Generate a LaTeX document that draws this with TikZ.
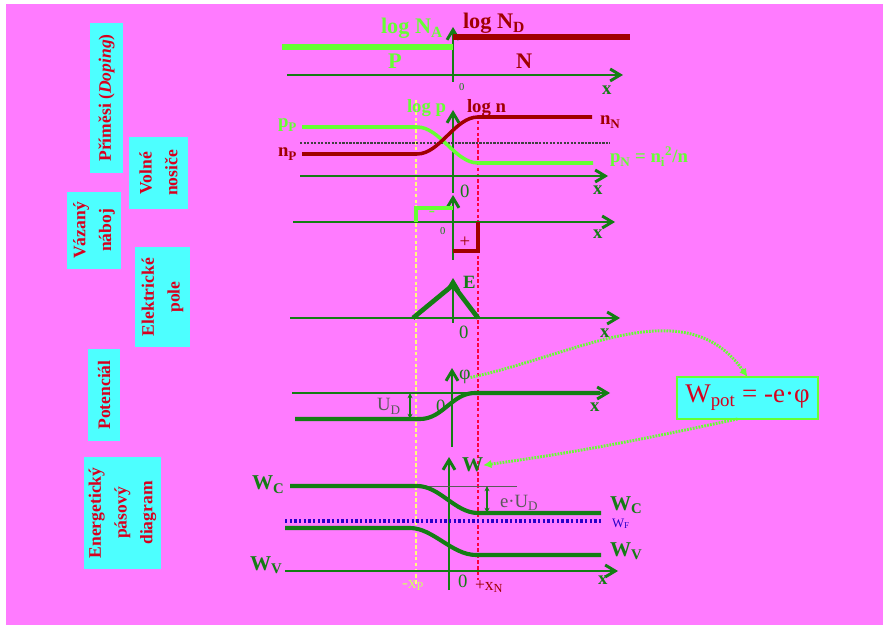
\documentclass[tikz,border=0pt]{standalone}
\usepackage{fontspec}
\setmainfont{Liberation Serif}
\usepackage{tikz}
\usetikzlibrary{arrows.meta,positioning}

\definecolor{bgpink}{RGB}{255,123,255}
\definecolor{boxcyan}{RGB}{77,255,255}
\definecolor{labred}{RGB}{215,0,30}
\definecolor{axisgreen}{RGB}{20,125,20}
\definecolor{pgreen}{RGB}{102,255,51}
\definecolor{ndred}{RGB}{160,0,0}
\definecolor{edgeyellow}{RGB}{255,255,120}
\definecolor{edgered}{RGB}{255,0,60}
\definecolor{fermiblue}{RGB}{40,0,200}
\definecolor{udgray}{RGB}{90,90,90}

\begin{document}
\begin{tikzpicture}[%
    x=0.03cm, y=-0.03cm,
    every node/.style={inner sep=0pt, outer sep=0pt},
    label box/.style={fill=boxcyan, text=labred, rotate=90, align=center,
        font=\bfseries\fontsize{15}{22}\selectfont},
    xaxis/.style={draw=axisgreen, line width=2.5pt,
        -{Straight Barb[length=3mm,width=3.6mm]}},
    big/.style={font=\bfseries\fontsize{18}{18}\selectfont, anchor=base west},
    mid/.style={font=\bfseries\fontsize{16}{16}\selectfont, anchor=base west},
    plainlab/.style={font=\fontsize{16}{16}\selectfont, anchor=base west},
    edgeline/.style={dash pattern=on 3pt off 2pt, line width=1.3pt},
    band/.style={axisgreen, line width=3.5pt},
    link/.style={pgreen, line width=2.5pt, dash pattern=on 1.5pt off 1pt,
        -{Latex[length=2.5mm,width=2.5mm]}}
]
\useasboundingbox (0,0) rectangle (883,625);
\fill[white] (0,0) rectangle (883,625);
\fill[bgpink] (6,4) rectangle (883,625);

% ---------------- Side labels ----------------
\node[label box, minimum width=4.5cm, minimum height=0.99cm] (doping) at (106.5,98) {Příměsi (\textit{Doping})};
\node[label box, minimum width=2.16cm, minimum height=1.77cm] (free) at (158.5,173) {Volné\\nosiče};
\node[label box, minimum width=2.31cm, minimum height=1.62cm] (bound) at (94,230.5) {Vázaný\\náboj};
\node[label box, minimum width=3cm, minimum height=1.65cm] (field) at (162.5,297) {Elektrické\\pole};
\node[label box, minimum width=2.76cm, minimum height=0.96cm] (potential) at (104,395) {Potenciál};
\node[label box, minimum width=3.36cm, minimum height=2.31cm] (bands) at (122.5,513) {Energetický\\pásový\\diagram};

% ---------------- Depletion edges ----------------
\draw[edgeyellow, edgeline] (416,100) -- (416,585);
\draw[edgered, edgeline] (478,115) -- (478,580);

% ---------------- Axes ----------------
\foreach \y/\xa/\xb in {75/287/623, 176/300/608, 222/293/615, 318/290/620, 393/292/610, 571/285/618} {
    \draw[xaxis] (\xa,\y) -- (\xb,\y);
}
\foreach \x/\ya/\yb in {453/82/27, 453/193/110, 453/260/195, 453/323/278, 452/447/368, 449/590/457} {
    \draw[xaxis] (\x,\ya) -- (\x,\yb);
}
\foreach \n/\px/\py in {1/602/95, 2/593/195, 3/593/239, 4/600/338, 5/590/412, 6/598/584} {
    \node[mid, text=axisgreen] (x\n) at (\px,\py) {x};
}
\foreach \n/\px/\py in {2/460/198, 4/459/339, 5/436/413, 6/458/587} {
    \node[plainlab, text=axisgreen] (zero\n) at (\px,\py) {0};
}
\node[font=\fontsize{9}{9}\selectfont, text=axisgreen, anchor=base west] (zero1) at (459,91) {0};
\node[font=\fontsize{9}{9}\selectfont, text=axisgreen, anchor=base west] (zero3) at (440,235) {0};

% ---------------- Doping ----------------
\draw[pgreen, line width=4.5pt] (282,47) -- (453,47);
\draw[ndred, line width=5pt] (453,37) -- (630,37);
\node[big, text=pgreen, font=\bfseries\fontsize{19}{19}\selectfont] (logNA) at (381,34) {log N\textsubscript{A}};
\node[big, text=ndred, font=\bfseries\fontsize{19}{19}\selectfont] (logND) at (463,29) {log N\textsubscript{D}};
\node[big, text=pgreen, font=\bfseries\fontsize{19}{19}\selectfont] (pside) at (388,69) {P};
\node[big, text=ndred, font=\bfseries\fontsize{19}{19}\selectfont] (nside) at (516,69) {N};

% ---------------- Free carriers ----------------
\draw[gray!50!black, line width=1.6pt, dash pattern=on 2pt off 1pt] (300,143) -- (610,143);
\draw[pgreen, line width=3pt] (302,127) -- (417,127) .. controls (440,127) and (455,163) .. (478,163) -- (593,163);
\draw[ndred, line width=3pt] (302,154) -- (417,154) .. controls (440,154) and (455,117) .. (478,117) -- (592,117);
\node[mid, text=pgreen] (pP) at (278,128) {p\textsubscript{P}};
\node[mid, text=ndred] (nP) at (278,157) {n\textsubscript{P}};
\node[mid, text=ndred] (nN) at (600,125) {n\textsubscript{N}};
\node[mid, text=pgreen] (pN) at (610,163) {p\textsubscript{N} = n\textsubscript{i}\textsuperscript{2}/n};
\node[mid, text=pgreen] (logp) at (407,113) {log p};
\node[mid, text=ndred] (logn) at (467,113) {log n};

% ---------------- Bound charge ----------------
\draw[pgreen, line width=3pt] (416,222) -- (416,208) -- (453,208);
\draw[ndred, line width=3pt] (453,251) -- (478,251) -- (478,222);
\node[font=\fontsize{16}{16}\selectfont, text=pgreen] (minus) at (432,214) {-};
\node[font=\fontsize{16}{16}\selectfont, text=ndred] (plus) at (465,242) {+};

% ---------------- Electric field ----------------
\draw[axisgreen, line width=4pt, line join=round] (413,318) -- (453,285) -- (478,318);
\node[mid, text=axisgreen] (E) at (463,289) {E};

% ---------------- Potential ----------------
\draw[band] (295,419) -- (420,419) .. controls (443,419) and (452,393) .. (475,393) -- (600,393);
\draw[axisgreen, line width=1pt, {Stealth[length=1.6mm,width=1.5mm]}-{Stealth[length=1.6mm,width=1.5mm]}] (410,393) -- (410,419);
\node[plainlab, text=udgray] (UD) at (377,411) {U\textsubscript{D}};
\node[font=\fontsize{17}{17}\selectfont, text=axisgreen, anchor=base west] (phi) at (459,380) {φ};

% ---------------- Band diagram ----------------
\draw[udgray, line width=0.6pt] (417,486) -- (517,486);
\draw[band] (290,486) -- (417,486) .. controls (440,486) and (455,513) .. (478,513) -- (601,513);
\draw[band] (285,528) -- (410,528) .. controls (433,528) and (452,555) .. (476,555) -- (601,555);
\draw[fermiblue, line width=2.8pt, dash pattern=on 2pt off 2pt] (285,521) -- (601,521);
\draw[axisgreen, line width=1pt, {Stealth[length=1.6mm,width=1.5mm]}-{Stealth[length=1.6mm,width=1.5mm]}] (487,486) -- (487,513);
\node[plainlab, text=udgray] (eUD) at (500,507) {e·U\textsubscript{D}};
\node[big, text=axisgreen] (W) at (462,472) {W};
\node[big, text=axisgreen] (WCl) at (252,490) {W\textsubscript{C}};
\node[big, text=axisgreen] (WVl) at (250,570) {W\textsubscript{V}};
\node[big, text=axisgreen] (WCr) at (610,510) {W\textsubscript{C}};
\node[big, text=axisgreen] (WVr) at (610,556) {W\textsubscript{V}};
\node[font=\fontsize{11}{11}\selectfont, text=fermiblue, anchor=base west] (WF) at (612,527) {W\textsubscript{F}};
\node[font=\fontsize{15}{15}\selectfont, text=edgeyellow!70!pgreen, anchor=base west] (xP) at (402,588) {-x\textsubscript{P}};
\node[font=\fontsize{15}{15}\selectfont, text=ndred, anchor=base west] (xN) at (475,590) {+x\textsubscript{N}};

% ---------------- Potential energy ----------------
\node[draw=pgreen, fill=boxcyan, line width=1pt, minimum width=4.23cm, minimum height=1.26cm,
    text=labred, font=\fontsize{23}{23}\selectfont] (wpot) at (747.5,398) {W\textsubscript{pot} = -e·φ};
\draw[link] (phi.east) to[out=12, in=125] (wpot.north);
\draw[link] ([xshift=-0.3cm]wpot.south) to[out=192, in=8] (W.east);

\end{tikzpicture}
\end{document}
